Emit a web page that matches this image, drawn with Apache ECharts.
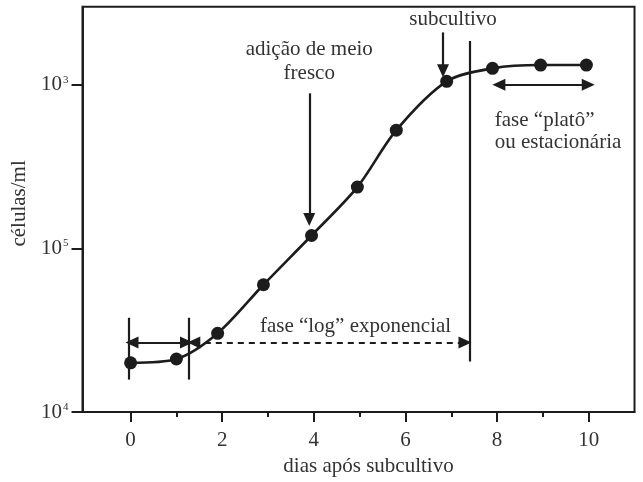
<!DOCTYPE html>
<html>
<head>
<meta charset="utf-8">
<script src="https://cdn.jsdelivr.net/npm/echarts@6/dist/echarts.min.js"></script>
<style>
html,body{margin:0;padding:0;background:#fff;}
#c{width:643px;height:482px;}
</style>
</head>
<body>
<div id="c"></div>
<script>
// data
var days  = [0, 1, 1.9, 2.9, 3.95, 4.95, 5.8, 6.9, 7.9, 8.95, 9.95];
var cells = [2.0e4, 2.11e4, 3.03e4, 6.0e4, 1.2e5, 2.37e5, 5.28e5, 1.05e6, 1.26e6, 1.32e6, 1.32e6];
var xTickValues = [0, 2, 4, 6, 8, 10];
var xMinorValues = [1, 3, 5, 7, 9];
var yTickValues = [1e4, 1e5, 1e6];
var yTickSup = {"10000": "4", "100000": "5", "1000000": "3"};

var FONT = '"Liberation Serif", "Times New Roman", serif';
var INK = '#1c1c1c';
var TXT = '#333';

var chart = echarts.init(document.getElementById('c'), null, {renderer: 'canvas'});

function pairs(xs, ys){ return xs.map(function(x,i){ return [x, ys[i]]; }); }

function text(coord, str, opts){
  opts = opts || {};
  return {
    coord: coord, symbol: 'circle', symbolSize: 1,
    itemStyle: {color: 'rgba(0,0,0,0)'},
    label: {
      show: true, position: 'inside', formatter: str,
      color: TXT, fontFamily: FONT, fontSize: opts.size || 21,
      align: opts.align || 'center', lineHeight: opts.lh || 22
    }
  };
}
function seg(a, b, s1, s2, dashed){
  return [
    {coord: a, symbol: s1, symbolSize: [12, 13], lineStyle: {color: INK, width: 2.2, type: dashed ? [6,5] : 'solid'}},
    {coord: b, symbol: s2, symbolSize: [12, 13]}
  ];
}

var option = {
  animation: false,
  backgroundColor: '#fff',
  grid: {left: 82.5, right: 8.5, top: 6.7, bottom: 63.7, show: true, borderColor: INK, borderWidth: 2},
  xAxis: [{
    type: 'value', min: -1.05, max: 11,
    name: 'dias após subcultivo', nameLocation: 'middle', nameGap: 33,
    nameTextStyle: {fontFamily: FONT, fontSize: 21, color: TXT, padding: [0,0,0,20]},
    axisLine: {show: true, onZero: false, lineStyle: {color: INK, width: 2}},
    axisTick: {show: true, length: 10, lineStyle: {color: INK, width: 2}, customValues: xTickValues},
    axisLabel: {show: true, margin: 18, fontFamily: FONT, fontSize: 21, color: TXT, customValues: xTickValues},
    splitLine: {show: false}
  }, {
    type: 'value', min: -1.05, max: 11, position: 'bottom',
    axisLine: {show: false, onZero: false},
    axisTick: {show: true, length: 5, lineStyle: {color: INK, width: 2}, customValues: xMinorValues},
    axisLabel: {show: false},
    splitLine: {show: false}
  }],
  yAxis: {
    type: 'log', logBase: 10, min: 1e4, max: 3.0e6,
    name: 'células/ml', nameLocation: 'middle', nameGap: 47,
    nameTextStyle: {fontFamily: FONT, fontSize: 21, color: TXT, padding: [0,0,0,12]},
    axisLine: {show: true, onZero: false, lineStyle: {color: INK, width: 2}},
    axisTick: {show: true, length: 11, lineStyle: {color: INK, width: 2}, customValues: yTickValues},
    axisLabel: {
      show: true, margin: 14, customValues: yTickValues,
      formatter: function(v){
        var k = String(Math.round(v));
        return '{b|10}{s|' + (yTickSup[k] || '') + '}';
      },
      rich: {
        b: {fontFamily: FONT, fontSize: 21, color: TXT},
        s: {fontFamily: FONT, fontSize: 11, color: TXT, verticalAlign: 'top', lineHeight: 12, padding: [0,0,0,1]}
      }
    },
    splitLine: {show: false}
  },
  series: [{
    type: 'line',
    data: pairs(days, cells),
    smooth: 0.3,
    symbol: 'circle', symbolSize: 13,
    itemStyle: {color: INK},
    lineStyle: {color: INK, width: 2.6},
    z: 5,
    markLine: {
      silent: true, animation: false,
      label: {show: false},
      data: [
        seg([7.4, 1.85e6], [7.4, 2.04e4], 'none', 'none'),             // subculture divider
        seg([6.82, 2.09e6], [6.82, 1.22e6], 'none', 'triangle'),       // subcultivo arrow
        seg([3.9, 8.87e5], [3.9, 1.5e5], 'none', 'triangle'),          // fresh medium arrow
        seg([-0.05, 3.77e4], [-0.05, 1.58e4], 'none', 'none'),         // lag left bar
        seg([1.28, 3.77e4], [1.28, 1.58e4], 'none', 'none'),           // lag right bar
        seg([0.03, 2.66e4], [1.22, 2.66e4], 'triangle', 'triangle'),   // lag double arrow
        seg([1.38, 2.66e4], [7.3, 2.66e4], 'triangle', 'triangle', true), // log phase arrow
        seg([8.04, 1.0e6], [9.99, 1.0e6], 'triangle', 'triangle')      // plateau arrow
      ]
    },
    markPoint: {
      silent: true, animation: false,
      data: [
        text([7.04, 2.5e6], 'subcultivo'),
        text([3.9, 1.38e6], 'adição de meio\nfresco', {lh: 24}),
        text([4.91, 3.33e4], 'fase “log” exponencial'),
        text([7.95, 5.2e5], 'fase “platô”\nou estacionária', {align: 'left'})
      ]
    }
  }]
};
chart.setOption(option);
</script>
</body>
</html>
